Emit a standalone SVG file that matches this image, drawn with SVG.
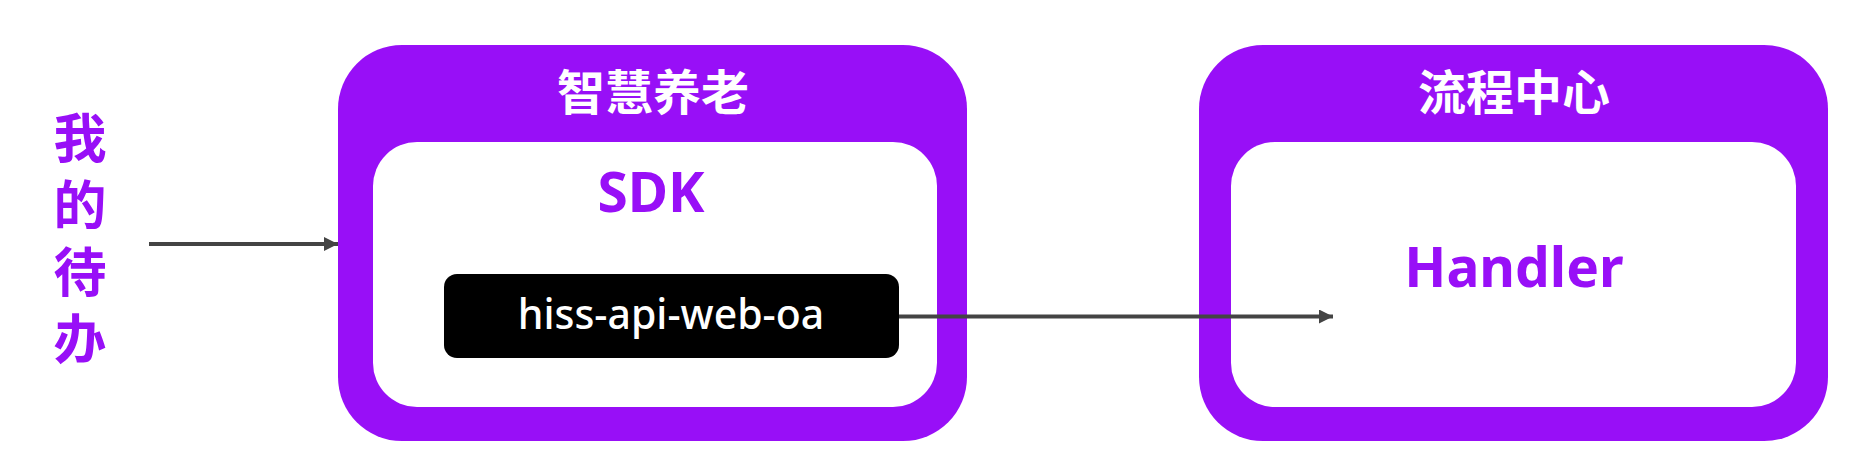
<svg xmlns="http://www.w3.org/2000/svg" width="1860" height="472" viewBox="0 0 1860 472">
<style>
.outer{fill:#980ff7}
.inner{fill:#ffffff}
.title{font-family:"Noto Sans CJK SC","Noto Sans",sans-serif;font-size:48px;font-weight:bold;fill:#ffffff;text-anchor:middle}
.label{font-family:"Noto Sans","Noto Sans CJK SC",sans-serif;font-size:55px;font-weight:bold;fill:#980ff7;text-anchor:middle}
.code{font-family:"Noto Sans","Noto Sans CJK SC",sans-serif;font-size:41px;font-weight:500;fill:#ffffff;text-anchor:middle}
.side{font-family:"Noto Sans CJK SC",sans-serif;font-size:53px;font-weight:bold;fill:#980ff7;writing-mode:vertical-rl;letter-spacing:14px}
.conn{stroke:#444444;stroke-width:4;fill:none}
</style>
<defs>
<marker id="arrow" viewBox="0 0 14 14" refX="14" refY="7" markerWidth="14" markerHeight="14" markerUnits="userSpaceOnUse" orient="auto">
<path d="M0,0 L14,7 L0,14 Z" fill="#444444"/>
</marker>
</defs>
<rect width="1860" height="472" fill="#ffffff"/>
<g id="my-todo">
<text class="side" x="80" y="111">我的待办</text>
</g>
<g id="zhihui-yanglao">
<rect class="outer" x="338" y="45" width="629" height="396" rx="64" ry="64"/>
<text class="title" x="653" y="110">智慧养老</text>
</g>
<g id="sdk">
<rect class="inner" x="373" y="142" width="564" height="265" rx="44" ry="44"/>
<text class="label" x="651" y="212">SDK</text>
</g>
<g id="hiss-api-web-oa">
<rect x="444" y="274" width="455" height="84" rx="13" ry="13" fill="#000000"/>
<text class="code" x="671" y="329">hiss-api-web-oa</text>
</g>
<g id="liucheng-zhongxin">
<rect class="outer" x="1199" y="45" width="629" height="396" rx="64" ry="64"/>
<text class="title" x="1514" y="110">流程中心</text>
</g>
<g id="handler">
<rect class="inner" x="1231" y="142" width="565" height="265" rx="44" ry="44"/>
<text class="label" x="1514" y="287">Handler</text>
</g>
<g id="connectors">
<line class="conn" x1="149" y1="244" x2="338" y2="244" marker-end="url(#arrow)"/>
<line class="conn" x1="899" y1="316.5" x2="1333" y2="316.5" marker-end="url(#arrow)"/>
</g>
</svg>
